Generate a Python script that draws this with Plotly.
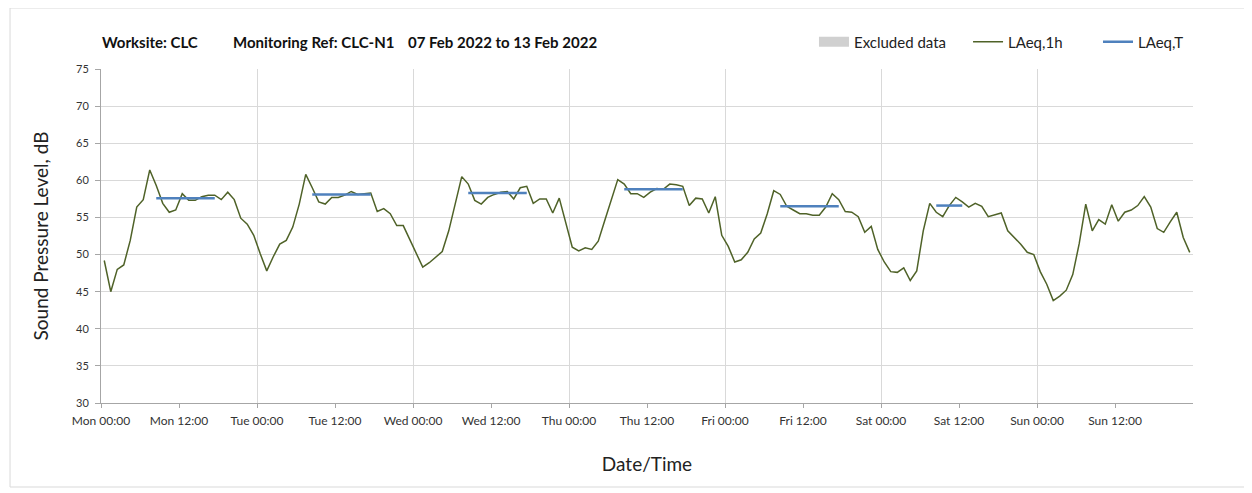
import pandas as pd
import plotly.graph_objects as go

# hourly LAeq,1h readings, Mon 07 Feb 2022 00:00 .. Sun 13 Feb 2022 23:00
laeq_1h = [
    # Mon
    49.2, 45.0, 48.0, 48.6, 51.9, 56.4, 57.4, 61.4, 59.3, 56.9, 55.7, 56.0,
    58.2, 57.3, 57.3, 57.8, 58.0, 58.0, 57.4, 58.4, 57.4, 54.9, 54.1, 52.6,
    # Tue
    50.1, 47.8, 49.7, 51.4, 51.9, 53.7, 56.8, 60.8, 59.0, 57.1, 56.8, 57.7,
    57.7, 58.0, 58.5, 58.1, 58.2, 58.3, 55.8, 56.2, 55.5, 53.9, 53.9, 52.1,
    # Wed
    50.2, 48.3, 48.9, 49.7, 50.4, 53.2, 56.8, 60.5, 59.5, 57.3, 56.8, 57.7,
    58.1, 58.4, 58.5, 57.5, 59.0, 59.2, 56.9, 57.5, 57.5, 55.6, 57.6, 54.3,
    # Thu
    51.0, 50.5, 50.9, 50.7, 51.8, 54.6, 57.3, 60.1, 59.5, 58.2, 58.2, 57.7,
    58.4, 58.9, 58.8, 59.5, 59.4, 59.2, 56.6, 57.6, 57.5, 55.6, 57.8, 52.6,
    # Fri
    51.1, 49.0, 49.3, 50.3, 52.1, 52.9, 55.5, 58.6, 58.1, 56.5, 56.0, 55.5,
    55.5, 55.3, 55.3, 56.4, 58.2, 57.4, 55.8, 55.7, 55.1, 53.0, 53.8, 50.7,
    # Sat
    49.0, 47.7, 47.6, 48.2, 46.5, 47.8, 53.2, 56.9, 55.7, 55.1, 56.6, 57.7,
    57.1, 56.4, 56.9, 56.5, 55.1, 55.3, 55.6, 53.2, 52.3, 51.4, 50.3, 50.0,
    # Sun
    47.7, 46.0, 43.8, 44.4, 45.2, 47.3, 51.5, 56.8, 53.2, 54.7, 54.1, 56.7,
    54.5, 55.7, 56.0, 56.6, 57.8, 56.4, 53.5, 53.0, 54.4, 55.7, 52.3, 50.3,
]

# daytime LAeq,T per day: (first hour index, last hour index, level)
laeq_t_periods = [
    (8, 17, 57.6),
    (32, 41, 58.1),
    (56, 65, 58.3),
    (80, 89, 58.8),
    (104, 113, 56.5),
    (128, 132, 56.6),
]

tick_labels = ["Mon 00:00", "Mon 12:00", "Tue 00:00", "Tue 12:00", "Wed 00:00",
               "Wed 12:00", "Thu 00:00", "Thu 12:00", "Fri 00:00", "Fri 12:00",
               "Sat 00:00", "Sat 12:00", "Sun 00:00", "Sun 12:00"]

header_parts = ["Worksite: CLC", "Monitoring Ref: CLC-N1", "07 Feb 2022 to 13 Feb 2022"]

# each hourly value is plotted at the middle of its hour
times = pd.date_range("2022-02-07 00:30", periods=len(laeq_1h), freq="h")
tick_vals = pd.date_range("2022-02-07 00:00", periods=len(tick_labels), freq="12h")

laeq_t = [None] * len(laeq_1h)
for start, end, level in laeq_t_periods:
    for i in range(start, end + 1):
        laeq_t[i] = level

font = "Lato, 'Open Sans', sans-serif"
grid = "#d9d9d9"

fig = go.Figure()

# no excluded data this week, legend entry only (thick line = grey block)
fig.add_trace(go.Scatter(
    x=[times[0]], y=[None], mode="lines", name="Excluded data",
    line=dict(color="#d0d0d0", width=10), showlegend=True, legend="legend",
))
fig.add_trace(go.Scatter(
    x=times, y=laeq_1h, mode="lines", name="LAeq,1h",
    line=dict(color="#4f6228", width=1.5), legend="legend2",
))
fig.add_trace(go.Scatter(
    x=times, y=laeq_t, mode="lines", name="LAeq,T",
    line=dict(color="#4f81bd", width=2.5),
    connectgaps=False, legend="legend3",
))

for text, xpos in zip(header_parts, [-0.001, 0.119, 0.279]):
    fig.add_annotation(
        text=f"<b>{text}</b>",
        xref="paper", yref="paper", x=xpos, y=1.081,
        xanchor="left", yanchor="middle", showarrow=False,
        font=dict(family=font, size=15, color="#111111"),
    )

# outer chart frame
fig.add_shape(
    type="rect", xref="paper", yref="paper",
    x0=-0.0833, x1=1.0476, y0=-0.2515, y1=1.1826,
    line=dict(color="#d9d9d9", width=1), layer="below",
)

legend_style = dict(
    orientation="h", y=1.081, xanchor="left", yanchor="middle",
    font=dict(family=font, size=15, color="#222222"),
    bgcolor="rgba(0,0,0,0)", itemwidth=30,
)

fig.update_layout(
    width=1244, height=485,
    margin=dict(l=93, r=59, t=61, b=90, autoexpand=False),
    paper_bgcolor="white", plot_bgcolor="white",
    font=dict(family=font, size=12, color="#333333"),
    legend=dict(x=0.6529, **legend_style),
    legend2=dict(x=0.7940, **legend_style),
    legend3=dict(x=0.9130, **legend_style),
    showlegend=True,
    xaxis=dict(
        type="date",
        range=["2022-02-07 00:00", "2022-02-14 00:00"],
        tickvals=tick_vals, ticktext=tick_labels,
        ticks="outside", ticklen=4, tickcolor="#a6a6a6",
        ticklabelstandoff=3,
        showgrid=False,
        minor=dict(dtick=86400000, tick0="2022-02-07", showgrid=True,
                   gridcolor=grid, gridwidth=1, ticks=""),
        showline=True, linecolor="#a6a6a6", linewidth=1,
        zeroline=False,
        title=dict(text="Date/Time", font=dict(family=font, size=19, color="#222222"),
                   standoff=30),
        tickfont=dict(size=12, color="#333333"),
    ),
    yaxis=dict(
        range=[30, 75], dtick=5,
        showgrid=True, gridcolor=grid, gridwidth=1,
        ticks="outside", ticklen=5, tickcolor="#a6a6a6",
        ticklabelstandoff=4,
        showline=True, linecolor="#a6a6a6", linewidth=1,
        zeroline=False,
        title=dict(text="Sound Pressure Level, dB",
                   font=dict(family=font, size=19, color="#222222"), standoff=22),
        tickfont=dict(size=11, color="#333333"),
    ),
)

fig.write_html("out.html")
